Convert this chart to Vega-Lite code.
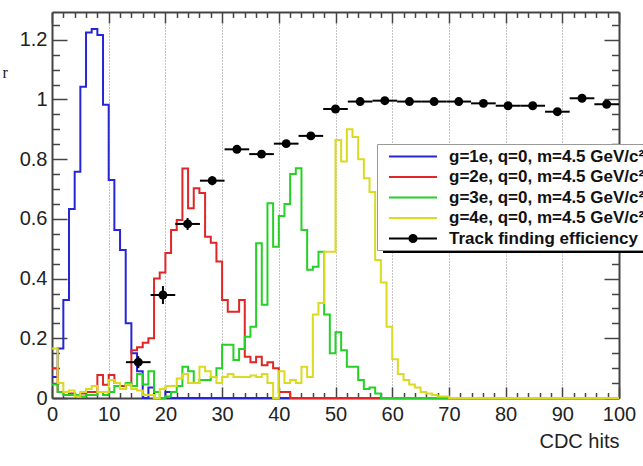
{
"$schema": "https://vega.github.io/schema/vega-lite/v6.json",
"width": 567, "height": 386,
"autosize": {"type": "none"},
"padding": {"left": 52, "top": 12, "right": 24, "bottom": 68},
"background": "white",
"config": {"view": {"stroke": null}, "font": "Liberation Sans"},
"datasets": {
"hist": [
{"s":"g1","x":0,"y":0.07},{"s":"g1","x":1,"y":0.166},{"s":"g1","x":2,"y":0.328},{"s":"g1","x":3,"y":0.633},{"s":"g1","x":4,"y":0.758},{"s":"g1","x":5,"y":1.043},{"s":"g1","x":6,"y":1.224},{"s":"g1","x":7,"y":1.236},{"s":"g1","x":8,"y":1.216},{"s":"g1","x":9,"y":0.982},{"s":"g1","x":10,"y":0.73},{"s":"g1","x":11,"y":0.563},{"s":"g1","x":12,"y":0.496},{"s":"g1","x":13,"y":0.25},{"s":"g1","x":14,"y":0.15},{"s":"g1","x":15,"y":0.09},{"s":"g1","x":16,"y":0},{"s":"g1","x":17,"y":0.035},{"s":"g1","x":18,"y":0},{"s":"g1","x":19,"y":0},{"s":"g1","x":20,"y":0.02},{"s":"g1","x":21,"y":0},{"s":"g1","x":100,"y":0},
{"s":"g2","x":0,"y":0.1},{"s":"g2","x":1,"y":0.02},{"s":"g2","x":2,"y":0.02},{"s":"g2","x":3,"y":0.015},{"s":"g2","x":4,"y":0.01},{"s":"g2","x":5,"y":0.015},{"s":"g2","x":6,"y":0.02},{"s":"g2","x":7,"y":0.02},{"s":"g2","x":8,"y":0.077},{"s":"g2","x":9,"y":0.044},{"s":"g2","x":10,"y":0.077},{"s":"g2","x":11,"y":0.05},{"s":"g2","x":12,"y":0.04},{"s":"g2","x":13,"y":0.045},{"s":"g2","x":14,"y":0.16},{"s":"g2","x":15,"y":0.17},{"s":"g2","x":16,"y":0.185},{"s":"g2","x":17,"y":0.2},{"s":"g2","x":18,"y":0.4},{"s":"g2","x":19,"y":0.42},{"s":"g2","x":20,"y":0.486},{"s":"g2","x":21,"y":0.563},{"s":"g2","x":22,"y":0.596},{"s":"g2","x":23,"y":0.769},{"s":"g2","x":24,"y":0.636},{"s":"g2","x":25,"y":0.703},{"s":"g2","x":26,"y":0.687},{"s":"g2","x":27,"y":0.54},{"s":"g2","x":28,"y":0.52},{"s":"g2","x":29,"y":0.457},{"s":"g2","x":30,"y":0.328},{"s":"g2","x":31,"y":0.289},{"s":"g2","x":32,"y":0.289},{"s":"g2","x":33,"y":0.328},{"s":"g2","x":34,"y":0.138},{"s":"g2","x":35,"y":0.12},{"s":"g2","x":36,"y":0.138},{"s":"g2","x":37,"y":0.11},{"s":"g2","x":38,"y":0.12},{"s":"g2","x":39,"y":0.1},{"s":"g2","x":40,"y":0.02},{"s":"g2","x":41,"y":0.02},{"s":"g2","x":42,"y":0},{"s":"g2","x":100,"y":0},
{"s":"g3","x":0,"y":0.045},{"s":"g3","x":1,"y":0.02},{"s":"g3","x":2,"y":0.01},{"s":"g3","x":3,"y":0.01},{"s":"g3","x":4,"y":0.01},{"s":"g3","x":5,"y":0.005},{"s":"g3","x":6,"y":0.01},{"s":"g3","x":7,"y":0.01},{"s":"g3","x":8,"y":0.02},{"s":"g3","x":9,"y":0.01},{"s":"g3","x":10,"y":0.02},{"s":"g3","x":11,"y":0.04},{"s":"g3","x":12,"y":0.03},{"s":"g3","x":13,"y":0.05},{"s":"g3","x":14,"y":0.04},{"s":"g3","x":15,"y":0.08},{"s":"g3","x":16,"y":0.045},{"s":"g3","x":17,"y":0.09},{"s":"g3","x":18,"y":0.02},{"s":"g3","x":19,"y":0},{"s":"g3","x":20,"y":0.005},{"s":"g3","x":21,"y":0.02},{"s":"g3","x":22,"y":0.04},{"s":"g3","x":23,"y":0.105},{"s":"g3","x":24,"y":0.09},{"s":"g3","x":25,"y":0.05},{"s":"g3","x":26,"y":0.06},{"s":"g3","x":27,"y":0.06},{"s":"g3","x":28,"y":0.07},{"s":"g3","x":29,"y":0.1},{"s":"g3","x":30,"y":0.178},{"s":"g3","x":31,"y":0.178},{"s":"g3","x":32,"y":0.127},{"s":"g3","x":33,"y":0.164},{"s":"g3","x":34,"y":0.205},{"s":"g3","x":35,"y":0.239},{"s":"g3","x":36,"y":0.518},{"s":"g3","x":37,"y":0.312},{"s":"g3","x":38,"y":0.652},{"s":"g3","x":39,"y":0.507},{"s":"g3","x":40,"y":0.61},{"s":"g3","x":41,"y":0.65},{"s":"g3","x":42,"y":0.75},{"s":"g3","x":43,"y":0.77},{"s":"g3","x":44,"y":0.563},{"s":"g3","x":45,"y":0.43},{"s":"g3","x":46,"y":0.44},{"s":"g3","x":47,"y":0.49},{"s":"g3","x":48,"y":0.28},{"s":"g3","x":49,"y":0.15},{"s":"g3","x":50,"y":0.22},{"s":"g3","x":51,"y":0.16},{"s":"g3","x":52,"y":0.105},{"s":"g3","x":53,"y":0.105},{"s":"g3","x":54,"y":0.06},{"s":"g3","x":55,"y":0.03},{"s":"g3","x":56,"y":0.035},{"s":"g3","x":57,"y":0.015},{"s":"g3","x":58,"y":0},{"s":"g3","x":100,"y":0},
{"s":"g4","x":0,"y":0.166},{"s":"g4","x":1,"y":0.05},{"s":"g4","x":2,"y":0.02},{"s":"g4","x":3,"y":0.025},{"s":"g4","x":4,"y":0.005},{"s":"g4","x":5,"y":0.02},{"s":"g4","x":6,"y":0.03},{"s":"g4","x":7,"y":0.04},{"s":"g4","x":8,"y":0.02},{"s":"g4","x":9,"y":0.02},{"s":"g4","x":10,"y":0.06},{"s":"g4","x":11,"y":0.05},{"s":"g4","x":12,"y":0.03},{"s":"g4","x":13,"y":0.045},{"s":"g4","x":14,"y":0.03},{"s":"g4","x":15,"y":0.025},{"s":"g4","x":16,"y":0.01},{"s":"g4","x":17,"y":0.01},{"s":"g4","x":18,"y":0},{"s":"g4","x":19,"y":0.03},{"s":"g4","x":20,"y":0.04},{"s":"g4","x":21,"y":0.04},{"s":"g4","x":22,"y":0.065},{"s":"g4","x":23,"y":0.08},{"s":"g4","x":24,"y":0.05},{"s":"g4","x":25,"y":0.05},{"s":"g4","x":26,"y":0.105},{"s":"g4","x":27,"y":0.09},{"s":"g4","x":28,"y":0.07},{"s":"g4","x":29,"y":0.05},{"s":"g4","x":30,"y":0.07},{"s":"g4","x":31,"y":0.08},{"s":"g4","x":32,"y":0.07},{"s":"g4","x":33,"y":0.07},{"s":"g4","x":34,"y":0.07},{"s":"g4","x":35,"y":0.075},{"s":"g4","x":36,"y":0.07},{"s":"g4","x":37,"y":0.08},{"s":"g4","x":38,"y":0.05},{"s":"g4","x":39,"y":0},{"s":"g4","x":40,"y":0.09},{"s":"g4","x":41,"y":0.05},{"s":"g4","x":42,"y":0.06},{"s":"g4","x":43,"y":0.05},{"s":"g4","x":44,"y":0.105},{"s":"g4","x":45,"y":0.07},{"s":"g4","x":46,"y":0.28},{"s":"g4","x":47,"y":0.318},{"s":"g4","x":48,"y":0.49},{"s":"g4","x":49,"y":0.49},{"s":"g4","x":50,"y":0.864},{"s":"g4","x":51,"y":0.792},{"s":"g4","x":52,"y":0.9},{"s":"g4","x":53,"y":0.874},{"s":"g4","x":54,"y":0.8},{"s":"g4","x":55,"y":0.736},{"s":"g4","x":56,"y":0.69},{"s":"g4","x":57,"y":0.462},{"s":"g4","x":58,"y":0.387},{"s":"g4","x":59,"y":0.239},{"s":"g4","x":60,"y":0.13},{"s":"g4","x":61,"y":0.08},{"s":"g4","x":62,"y":0.06},{"s":"g4","x":63,"y":0.045},{"s":"g4","x":64,"y":0.035},{"s":"g4","x":65,"y":0.02},{"s":"g4","x":66,"y":0.015},{"s":"g4","x":67,"y":0.01},{"s":"g4","x":68,"y":0.005},{"s":"g4","x":69,"y":0.005},{"s":"g4","x":70,"y":0},{"s":"g4","x":100,"y":0}
],
"eff": [
{"s":"eff","x":15.217,"xlo":13.043,"xhi":17.391,"e":0.12,"elo":0.1,"ehi":0.14},
{"s":"eff","x":19.565,"xlo":17.391,"xhi":21.739,"e":0.345,"elo":0.315,"ehi":0.375},
{"s":"eff","x":23.913,"xlo":21.739,"xhi":26.087,"e":0.583,"elo":0.563,"ehi":0.603},
{"s":"eff","x":28.261,"xlo":26.087,"xhi":30.435,"e":0.728,"elo":0.713,"ehi":0.743},
{"s":"eff","x":32.609,"xlo":30.435,"xhi":34.783,"e":0.833,"elo":0.823,"ehi":0.843},
{"s":"eff","x":36.957,"xlo":34.783,"xhi":39.13,"e":0.817,"elo":0.807,"ehi":0.827},
{"s":"eff","x":41.304,"xlo":39.13,"xhi":43.478,"e":0.852,"elo":0.842,"ehi":0.862},
{"s":"eff","x":45.652,"xlo":43.478,"xhi":47.826,"e":0.878,"elo":0.868,"ehi":0.888},
{"s":"eff","x":50,"xlo":47.826,"xhi":52.174,"e":0.968,"elo":0.962,"ehi":0.974},
{"s":"eff","x":54.348,"xlo":52.174,"xhi":56.522,"e":0.993,"elo":0.989,"ehi":0.997},
{"s":"eff","x":58.696,"xlo":56.522,"xhi":60.87,"e":0.996,"elo":0.992,"ehi":1.0},
{"s":"eff","x":63.043,"xlo":60.87,"xhi":65.217,"e":0.993,"elo":0.989,"ehi":0.997},
{"s":"eff","x":67.391,"xlo":65.217,"xhi":69.565,"e":0.993,"elo":0.989,"ehi":0.997},
{"s":"eff","x":71.739,"xlo":69.565,"xhi":73.913,"e":0.993,"elo":0.989,"ehi":0.997},
{"s":"eff","x":76.087,"xlo":73.913,"xhi":78.261,"e":0.987,"elo":0.983,"ehi":0.991},
{"s":"eff","x":80.435,"xlo":78.261,"xhi":82.609,"e":0.979,"elo":0.975,"ehi":0.983},
{"s":"eff","x":84.783,"xlo":82.609,"xhi":86.957,"e":0.979,"elo":0.975,"ehi":0.983},
{"s":"eff","x":89.13,"xlo":86.957,"xhi":91.304,"e":0.959,"elo":0.955,"ehi":0.963},
{"s":"eff","x":93.478,"xlo":91.304,"xhi":95.652,"e":1.004,"elo":1.0,"ehi":1.008},
{"s":"eff","x":97.826,"xlo":95.652,"xhi":100,"e":0.984,"elo":0.98,"ehi":0.988}
]
},
"layer": [
{
"data": {"name": "hist"},
"mark": {"type": "line", "interpolate": "step-after", "strokeWidth": 2},
"encoding": {
"x": {"field": "x", "type": "quantitative", "scale": {"domain": [0, 100], "nice": false, "zero": false},
 "axis": {"orient": "bottom",
  "values": [0,2,4,6,8,10,12,14,16,18,20,22,24,26,28,30,32,34,36,38,40,42,44,46,48,50,52,54,56,58,60,62,64,66,68,70,72,74,76,78,80,82,84,86,88,90,92,94,96,98,100],
  "labelExpr": "datum.value % 10 === 0 ? format(datum.value, 'd') : ''",
  "labelFontSize": 20, "labelColor": "#222", "labelPadding": 17, "labelFlush": false, "labelOverlap": false,
  "tickSize": {"condition": {"test": "datum.value % 10 === 0", "value": -11}, "value": -5.5},
  "tickColor": "#444", "tickWidth": 1.5, "domainColor": "#444", "domainWidth": 2,
  "grid": true, "gridColor": "#888", "gridDash": [1, 2], "gridWidth": 1,
  "gridOpacity": {"condition": {"test": "datum.value % 10 === 0 && datum.value > 0 && datum.value < 100", "value": 1}, "value": 0},
  "title": "CDC hits", "titleAnchor": "end", "titleFontSize": 20, "titleFontWeight": "normal", "titleColor": "#222", "titlePadding": 2}},
"y": {"field": "y", "type": "quantitative", "scale": {"domain": [0, 1.293], "nice": false},
 "axis": {"orient": "left",
  "values": [0,0.05,0.1,0.15,0.2,0.25,0.3,0.35,0.4,0.45,0.5,0.55,0.6,0.65,0.7,0.75,0.8,0.85,0.9,0.95,1,1.05,1.1,1.15,1.2,1.25],
  "labelExpr": "abs(datum.value*5 - round(datum.value*5)) < 0.000001 ? format(datum.value, '.2~f') : ''",
  "labelFontSize": 20, "labelColor": "#222", "labelPadding": 20, "labelOverlap": false, "labelFlush": false,
  "tickSize": {"condition": {"test": "abs(datum.value*5 - round(datum.value*5)) < 0.000001", "value": -15}, "value": -7.5},
  "tickColor": "#444", "tickWidth": 1.5, "domainColor": "#444", "domainWidth": 2, "grid": false,
  "title": "r", "titleAngle": 0, "titleX": -50, "titleY": 65, "titleAlign": "left", "titleBaseline": "alphabetic",
  "titleFont": "Liberation Serif", "titleFontSize": 16, "titleFontWeight": "normal", "titleColor": "#222"}},
"color": {"field": "s", "type": "nominal",
 "scale": {"domain": ["g1","g2","g3","g4","eff"], "range": ["#2626d6","#e02626","#26d026","#dada20","#000000"]},
 "legend": {"orient": "none", "legendX": 325, "legendY": 132, "title": null, "zindex": 2,
  "labelExpr": "datum.value === 'g1' ? 'g=1e, q=0, m=4.5 GeV/c²' : datum.value === 'g2' ? 'g=2e, q=0, m=4.5 GeV/c²' : datum.value === 'g3' ? 'g=3e, q=0, m=4.5 GeV/c²' : datum.value === 'g4' ? 'g=4e, q=0, m=4.5 GeV/c²' : 'Track finding efficiency'",
  "labelFontSize": 17, "labelFontWeight": "bold", "labelColor": "#111", "labelLimit": 600, "labelOffset": 27,
  "strokeColor": "#999", "fillColor": "white", "padding": 3.5, "rowPadding": 3.5, "symbolOffset": 23.5,
  "symbolSize": 256, "symbolStrokeWidth": 2, "symbolType": "M-3,0H3",
  "encode": {"symbols": {"update": {
   "shape": {"signal": "datum.value === 'eff' ? 'M-3,0H3M-0.45,0A0.45,0.45,0,1,1,0.45,0A0.45,0.45,0,1,1,-0.45,0' : 'M-3,0H3'"},
   "fill": {"scale": "color", "field": "value"},
   "stroke": {"scale": "color", "field": "value"},
   "strokeWidth": {"value": 2},
   "opacity": {"value": 1}}}}}}
}
},
{
"data": {"name": "eff"},
"mark": {"type": "rule", "strokeWidth": 2, "color": "black"},
"encoding": {
"x": {"field": "xlo", "type": "quantitative", "scale": {"domain": [0, 100], "nice": false, "zero": false}, "axis": null},
"x2": {"field": "xhi"},
"y": {"field": "e", "type": "quantitative", "scale": {"domain": [0, 1.293], "nice": false}, "axis": null}
}
},
{
"data": {"name": "eff"},
"mark": {"type": "rule", "strokeWidth": 2, "color": "black"},
"encoding": {
"x": {"field": "x", "type": "quantitative", "scale": {"domain": [0, 100], "nice": false, "zero": false}, "axis": null},
"y": {"field": "elo", "type": "quantitative", "scale": {"domain": [0, 1.293], "nice": false}, "axis": null},
"y2": {"field": "ehi"},
"opacity": {"field": "s", "type": "nominal", "scale": {"range": [1]},
 "legend": {"orient": "none", "legendX": 330, "legendY": 188, "title": null, "zindex": 1, "padding": 0,
  "labelExpr": "''", "labelFontSize": 2, "symbolType": "M0,-52H320V52H0Z", "symbolSize": 4,
  "symbolFillColor": "black", "symbolStrokeColor": "black", "symbolStrokeWidth": 0,
  "encode": {"symbols": {"update": {"fill": {"value": "black"}, "opacity": {"value": 1}, "strokeWidth": {"value": 0}}}}}}
}
},
{
"data": {"name": "eff"},
"mark": {"type": "circle", "size": 80, "opacity": 1},
"encoding": {
"x": {"field": "x", "type": "quantitative", "scale": {"domain": [0, 100], "nice": false, "zero": false},
 "axis": {"orient": "top", "labels": false, "title": null, "grid": false,
  "values": [0,2,4,6,8,10,12,14,16,18,20,22,24,26,28,30,32,34,36,38,40,42,44,46,48,50,52,54,56,58,60,62,64,66,68,70,72,74,76,78,80,82,84,86,88,90,92,94,96,98,100],
  "tickSize": {"condition": {"test": "datum.value % 10 === 0", "value": -11}, "value": -5.5},
  "tickColor": "#444", "tickWidth": 1.5, "domainColor": "#444", "domainWidth": 2}},
"y": {"field": "e", "type": "quantitative", "scale": {"domain": [0, 1.293], "nice": false},
 "axis": {"orient": "right", "labels": false, "title": null, "grid": false,
  "values": [0,0.05,0.1,0.15,0.2,0.25,0.3,0.35,0.4,0.45,0.5,0.55,0.6,0.65,0.7,0.75,0.8,0.85,0.9,0.95,1,1.05,1.1,1.15,1.2,1.25],
  "tickSize": {"condition": {"test": "abs(datum.value*5 - round(datum.value*5)) < 0.000001", "value": -15}, "value": -7.5},
  "tickColor": "#444", "tickWidth": 1.5, "domainColor": "#444", "domainWidth": 2}},
"color": {"field": "s", "type": "nominal", "scale": {"domain": ["g1","g2","g3","g4","eff"], "range": ["#2626d6","#e02626","#26d026","#dada20","#000000"]}}
}
}
],
"resolve": {"axis": {"x": "independent", "y": "independent"}}
}
